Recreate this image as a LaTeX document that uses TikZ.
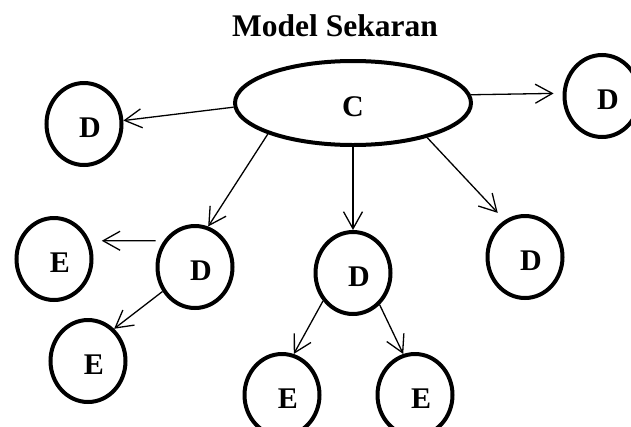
\documentclass[tikz,border=0pt]{standalone}
\usepackage{fontspec}
\setmainfont{Liberation Serif}
\usetikzlibrary{shapes.geometric,arrows.meta}

\begin{document}
\begin{tikzpicture}[x=1pt, y=-1pt,
  konsep/.style={draw, ellipse, line width=4pt, minimum width=75pt, minimum height=82pt,
    inner sep=0pt, text height=27pt, text depth=0pt, font=\fontsize{30}{36}\selectfont\bfseries},
  bulat/.style={konsep, execute at begin node={\hspace*{12pt}}},
  panah/.style={-{Straight Barb[length=17pt,width=19pt]}, line width=1.3pt}]
\useasboundingbox (0,0) rectangle (631,426);

% Title
\node[font=\fontsize{31.5}{38}\selectfont\bfseries] (judul) at (335,26) {Model Sekaran};

% Nodes
\node[konsep, minimum width=236pt, minimum height=84pt] (C) at (353,103) {C};
\node[bulat] (D1) at (84,124) {D};
\node[bulat] (D5) at (602,96) {D};
\node[bulat] (D2) at (195,267) {D};
\node[bulat] (D3) at (353,273) {D};
\node[bulat] (D4) at (525,257) {D};
\node[bulat] (E1) at (54,259) {E};
\node[bulat] (E2) at (88,361) {E};
\node[bulat] (E3) at (282,395) {E};
\node[bulat] (E4) at (415,395) {E};

% Arrows from C
\draw[panah] (C.182) -- (D1.5);
\draw[panah, shorten >=9pt] (C.4) -- (D5.176);
\draw[panah] (C.200) -- (D2.72);
\draw[panah] (C.south) -- (D3.north);
\draw[panah, shorten >=10pt] (C.335) -- (D4.119);

% Arrows to E
\draw[panah, shorten <=8pt, shorten >=12pt] (D2.140) -- (E1.27);
\draw[panah] (D2.217) -- (E2.51);
\draw[panah] (D3.223) -- (E3.74);
\draw[panah] (D3.310) -- (E4.106);

\end{tikzpicture}
\end{document}
